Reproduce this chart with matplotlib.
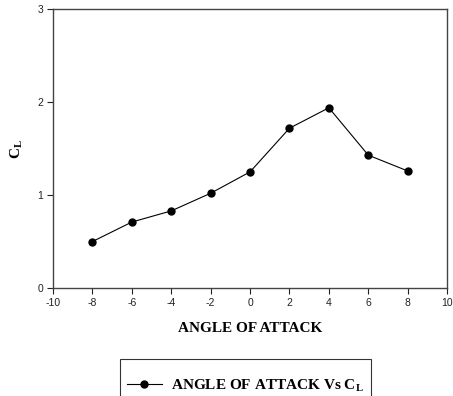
import matplotlib.pyplot as plt

plt.rcParams['axes.unicode_minus'] = False

# lift coefficient against angle of attack
angle = [-8, -6, -4, -2, 0, 2, 4, 6, 8]
cl = [0.50, 0.71, 0.83, 1.02, 1.25, 1.72, 1.94, 1.43, 1.26]

xticks = [-10, -8, -6, -4, -2, 0, 2, 4, 6, 8, 10]
yticks = [0, 1, 2, 3]

serif = ['Liberation Serif', 'DejaVu Serif']
sans = ['Liberation Sans', 'DejaVu Sans']

fig = plt.figure(figsize=(4.53, 3.96), dpi=100)
ax = fig.add_axes([0.117, 0.2727, 0.870, 0.7038])

ax.plot(angle, cl, color='black', linewidth=0.8, marker='o', markersize=5,
        label=r'ANGLE OF ATTACK Vs C$_\mathregular{L}$')

ax.set_xlim(-10, 10)
ax.set_ylim(0, 3)
ax.set_xticks(xticks)
ax.set_yticks(yticks)
ax.tick_params(direction='out', length=4, width=0.8, labelsize=7.5, pad=3,
               colors='#222222', top=False, right=False)
for lab in ax.get_xticklabels() + ax.get_yticklabels():
    lab.set_family(sans)
for sp in ax.spines.values():
    sp.set_color('#444444')
    sp.set_linewidth(1.0)

ax.set_xlabel('ANGLE OF ATTACK', family=serif, fontweight='bold', fontsize=11, labelpad=10)
ax.set_ylabel(r'C$_\mathregular{L}$', family=serif, fontweight='bold', fontsize=11, labelpad=9)

# legend box sits low so its bottom edge runs off the figure
leg = fig.legend(loc='upper left', bbox_to_anchor=(120 / 453, 1 - 359 / 396),
                 borderaxespad=0, frameon=True, fancybox=False, edgecolor='black',
                 borderpad=0.45, handlelength=2.3, handletextpad=0.6,
                 title=' ', title_fontsize=2,
                 prop={'family': serif, 'weight': 'bold', 'size': 11})
leg.get_frame().set_linewidth(0.8)

fig.savefig('out.png', dpi=100)
